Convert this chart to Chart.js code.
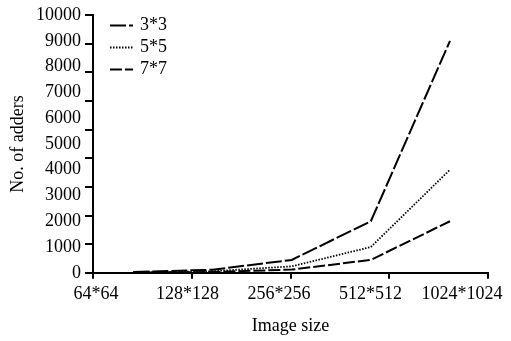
<!DOCTYPE html>
<html>
<head>
<meta charset="utf-8">
<script src="https://cdn.jsdelivr.net/npm/chart.js@4/dist/chart.umd.min.js"></script>
<style>
html,body{margin:0;padding:0;background:#fff;}
#wrap{width:511px;height:341px;position:relative;}
</style>
</head>
<body>
<div id="wrap"><canvas id="c"></canvas></div>
<script>
// ---- data ----
const categories = ['64*64', '128*128', '256*256', '512*512', '1024*1024'];
const seriesNames = ['3*3', '5*5', '7*7'];
const adders3x3 = [30, 120, 500, 2000, 9000];
const adders5x5 = [15, 60, 250, 1000, 4000];
const adders7x7 = [8, 30, 125, 500, 2000];
const yMax = 10000;
const yStep = 1000;

const FONT = "'Liberation Serif', 'Times New Roman', serif";
Chart.defaults.font.family = FONT;
Chart.defaults.font.size = 18;
Chart.defaults.color = '#000';

const seriesValues = [adders3x3, adders5x5, adders7x7];
const lineStyles = [
  {dash: [16, 3], width: 2},
  {dash: [1.5, 1.5], width: 1.8},
  {dash: [12, 3], width: 2}
];

const datasets = seriesNames.map((name, i) => ({
  label: name,
  data: seriesValues[i].map((v, j) => ({x: j, y: v})),
  borderColor: '#000',
  backgroundColor: '#000',
  borderWidth: lineStyles[i].width,
  borderDash: lineStyles[i].dash,
  borderCapStyle: 'butt',
  pointRadius: 0,
  tension: 0,
  fill: false,
  xAxisID: 'x',
  yAxisID: 'y'
}));

const inlineLegend = {
  id: 'inlineLegend',
  afterDraw(chart) {
    const ctx = chart.ctx;
    const area = chart.chartArea;
    ctx.save();
    chart.data.datasets.forEach((ds, i) => {
      const y = area.top + 10.5 + i * 22;
      const x0 = area.left + 17;
      ctx.beginPath();
      ctx.setLineDash(ds.borderDash);
      ctx.lineWidth = ds.borderWidth;
      ctx.strokeStyle = '#000';
      ctx.moveTo(x0, y);
      ctx.lineTo(x0 + 23, y);
      ctx.stroke();
      ctx.setLineDash([]);
      ctx.fillStyle = '#000';
      ctx.font = "18px " + FONT;
      ctx.textBaseline = 'middle';
      ctx.textAlign = 'left';
      ctx.fillText(ds.label, x0 + 30, y);
    });
    ctx.restore();
  }
};

const categoryTicks = (s) => { s.ticks = categories.map((c, i) => ({value: i})); };

new Chart(document.getElementById('c'), {
  type: 'line',
  data: {datasets},
  plugins: [inlineLegend],
  options: {
    responsive: true,
    maintainAspectRatio: false,
    animation: false,
    devicePixelRatio: 1,
    layout: {padding: {top: 15, right: 23, left: 0, bottom: 0}},
    plugins: {legend: {display: false}, tooltip: {enabled: false}},
    scales: {
      xTicks: {
        type: 'linear', position: 'bottom', min: 0, max: categories.length - 1, bounds: 'data',
        ticks: {display: false, stepSize: 1, includeBounds: false},
        afterBuildTicks: categoryTicks,
        grid: {display: true, drawOnChartArea: false, drawTicks: true, tickLength: 6, color: '#000', lineWidth: 2},
        border: {display: true, color: '#000', width: 2},
        afterFit(s) { s.height = 6; s.paddingLeft = 0; s.paddingRight = 0; }
      },
      xLabels: {
        type: 'linear', position: 'bottom', min: -0.033, max: 4.284, bounds: 'data',
        ticks: {stepSize: 1, includeBounds: false, autoSkip: false, maxRotation: 0, padding: 5,
                callback: (v) => categories[Math.round(v)]},
        afterBuildTicks: categoryTicks,
        grid: {display: false, drawTicks: false},
        border: {display: false},
        title: {display: true, text: 'Image size', padding: {top: 5, bottom: 4}},
        afterFit(s) { s.paddingLeft = 0; s.paddingRight = 0; }
      },
      x: {type: 'linear', display: false, min: -0.51, max: 4.48},
      yTicks: {
        type: 'linear', position: 'left', min: 0, max: 9, bounds: 'data',
        ticks: {display: false, stepSize: 1},
        grid: {display: true, drawOnChartArea: false, drawTicks: true, tickLength: 8, color: '#000', lineWidth: 2},
        border: {display: true, color: '#000', width: 2},
        afterFit(s) { s.width = 8; }
      },
      y: {
        type: 'linear', position: 'left', min: 0, max: yMax, bounds: 'data',
        ticks: {stepSize: yStep, padding: 4, autoSkip: false, callback: (v) => String(v)},
        grid: {display: false, drawTicks: false},
        border: {display: false},
        title: {display: true, text: 'No. of adders', padding: {top: 7, bottom: 0}},
        afterFit(s) { s.width = 85; }
      }
    }
  }
});
</script>
</body>
</html>
